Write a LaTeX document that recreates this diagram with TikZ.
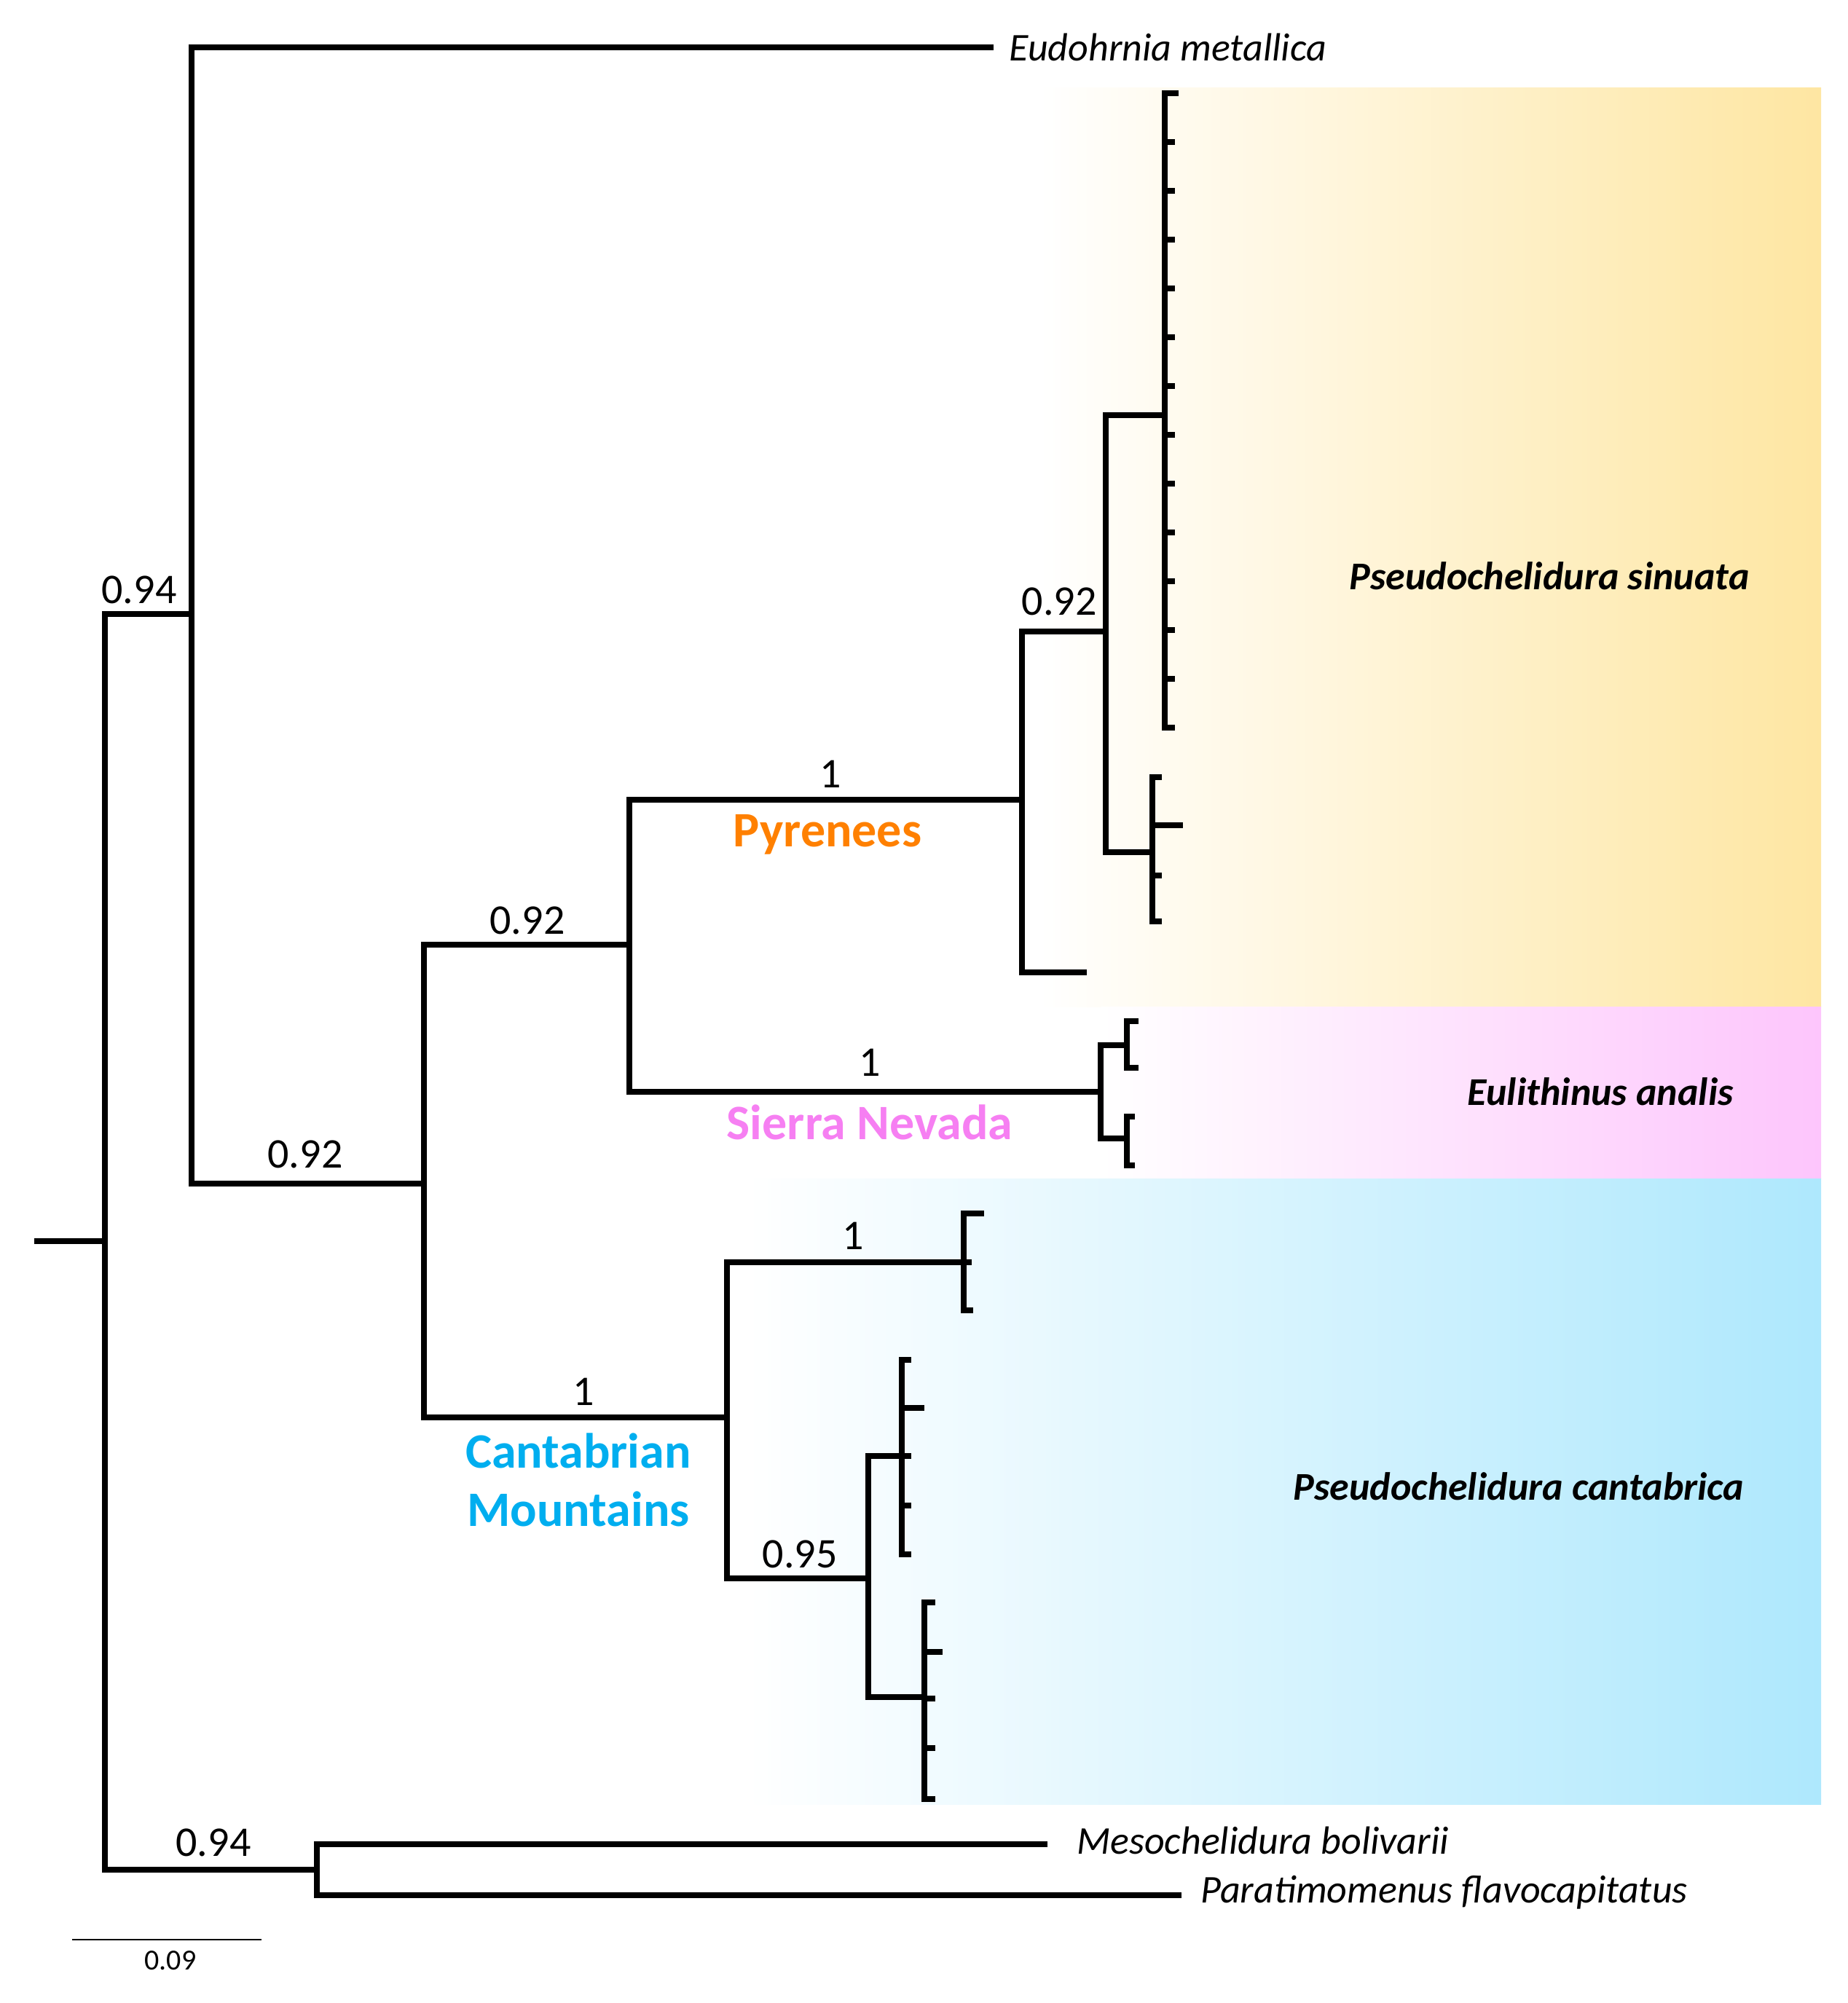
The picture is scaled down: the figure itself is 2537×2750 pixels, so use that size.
\documentclass[tikz,border=0pt]{standalone}
\usepackage{fontspec}
\setmainfont{Carlito}
\definecolor{ylw}{HTML}{FEE6A2}
\definecolor{pnk}{HTML}{FDC5FC}
\definecolor{blu}{HTML}{AEE8FD}
\definecolor{orng}{HTML}{FF8000}
\definecolor{pnktxt}{HTML}{F67FF2}
\definecolor{blutxt}{HTML}{00AEEF}
\tikzset{
  br/.style={line width=8.5pt, line join=miter, line cap=butt},
  tk/.style={line width=7.5pt, line cap=butt},
  supp/.style={inner sep=0pt, font=\fontsize{58}{66}\selectfont},
  taxon/.style={inner sep=0pt, anchor=west, font=\fontsize{54}{62}\selectfont\itshape},
  clade/.style={inner sep=0pt, font=\fontsize{54}{62}\selectfont\bfseries\itshape},
  region/.style={inner sep=0pt, font=\fontsize{68}{80}\selectfont\bfseries, align=center}
}
\begin{document}
\begin{tikzpicture}[x=1pt,y=-1pt]
\useasboundingbox (0,0) rectangle (2537,2750);
% background gradients
\shade[left color=white, right color=ylw] (1427,120) rectangle (2500,1382);
\shade[left color=white, right color=pnk] (1512,1382) rectangle (2500,1618);
\shade[left color=white, right color=blu] (1026,1618) rectangle (2500,2477);

% node coordinates
\coordinate (r0) at (47,1704);
\coordinate (R) at (144,1704);
\coordinate (A) at (263,843);
\coordinate (B) at (435,2567);
\coordinate (C) at (582,1625);
\coordinate (D) at (864,1297);
\coordinate (E) at (998,1946);
\coordinate (F) at (1403,1098);
\coordinate (SN) at (1511,1499);
\coordinate (G) at (1518,867);
\coordinate (H) at (1599,570);
\coordinate (I) at (1582,1170);
\coordinate (J) at (1547,1435);
\coordinate (K) at (1547,1563);
\coordinate (L) at (1323,1733);
\coordinate (M) at (1192,2167);
\coordinate (N) at (1238,1999);
\coordinate (O) at (1269,2330);
\coordinate (eud) at (1364,65);
\coordinate (pyl) at (1492,1335);
\coordinate (mes) at (1438,2532);
\coordinate (par) at (1622,2602);

% tree
\draw[br] (r0) -- (R);
\draw[br] (A) -| (R |- B) -- (B);
\draw[br] (eud) -| (A |- C) -- (C);
\draw[br] (D) -| (C |- E) -- (E);
\draw[br] (F) -| (D |- SN) -- (SN);
\draw[br] (G) -| (F |- pyl) -- (pyl);
\draw[br] (H) -| (G |- I) -- (I);
\draw[br] (J) -| (SN |- K) -- (K);
\draw[br] (L) -| (E |- M) -- (M);
\draw[br] (N) -| (M |- O) -- (O);
\draw[br] (mes) -| (B |- par) -- (par);

% comb H (Pseudochelidura sinuata)
\draw[br] (1599,124) -- (1599,1003);
\draw[tk] (1599,128) -- (1618,128);
\foreach \k in {1,...,12} {\draw[tk] (1599,128+67*\k) -- (1613,128+67*\k);}
\draw[tk] (1599,999) -- (1613,999);
% comb I
\draw[br] (1582,1063) -- (1582,1269);
\draw[tk] (1582,1067) -- (1595,1067);
\draw[tk] (1582,1133) -- (1624,1133);
\draw[tk] (1582,1202) -- (1595,1202);
\draw[tk] (1582,1265) -- (1595,1265);
% combs J, K
\draw[br] (1547,1398) -- (1547,1470);
\draw[tk] (1547,1402) -- (1563,1402);
\draw[tk] (1547,1466) -- (1563,1466);
\draw[br] (1547,1529) -- (1547,1604);
\draw[tk] (1547,1533) -- (1558,1533);
\draw[tk] (1547,1600) -- (1558,1600);
% comb L
\draw[br] (1323,1662) -- (1323,1803);
\draw[tk] (1323,1666) -- (1351,1666);
\draw[tk] (1323,1733) -- (1334,1733);
\draw[tk] (1323,1799) -- (1336,1799);
% comb N
\draw[br] (1238,1863) -- (1238,2138);
\draw[tk] (1238,1867) -- (1251,1867);
\draw[tk] (1238,1933) -- (1269,1933);
\draw[tk] (1238,1999) -- (1251,1999);
\draw[tk] (1238,2067) -- (1251,2067);
\draw[tk] (1238,2134) -- (1251,2134);
% comb O
\draw[br] (1269,2196) -- (1269,2474);
\draw[tk] (1269,2200) -- (1284,2200);
\draw[tk] (1269,2268) -- (1294,2268);
\draw[tk] (1269,2332) -- (1284,2332);
\draw[tk] (1269,2400) -- (1284,2400);
\draw[tk] (1269,2470) -- (1284,2470);

% support values
\node[supp] (s1) at (191,810) {0.94};
\node[supp] (s2) at (419,1585) {0.92};
\node[supp] (s3) at (724,1264) {0.92};
\node[supp] (s4) at (1140,1063) {1};
\node[supp] (s5) at (1454,826) {0.92};
\node[supp] (s6) at (1194,1459) {1};
\node[supp] (s7) at (1171,1697) {1};
\node[supp] (s8) at (801,1911) {1};
\node[supp] (s9) at (1098,2134) {0.95};
\node[supp] (s10) at (293,2530) {0.94};

% regions
\node[region, text=orng] (pyr) at (1136,1146) {Pyrenees};
\node[region, text=pnktxt] (sier) at (1194,1541) {Sierra Nevada};
\node[region, text=blutxt] (cant) at (794,2032) {Cantabrian\\Mountains};

% taxa
\node[taxon] (teud) at (1385,65) {Eudohrnia metallica};
\node[taxon] (tmes) at (1478,2527) {Mesochelidura bolivarii};
\node[taxon] (tpar) at (1648,2598) {Paratimomenus flavocapitatus};
\node[clade] (csin) at (2127,791) {Pseudochelidura sinuata};
\node[clade] (cana) at (2197,1499) {Eulithinus analis};
\node[clade] (ccan) at (2085,2041) {Pseudochelidura cantabrica};

% scale bar
\coordinate (sb1) at (99,2663);
\coordinate (sb2) at (359,2663);
\draw[line width=2pt] (sb1) -- (sb2);
\node[inner sep=0pt, font=\fontsize{40}{48}\selectfont] (sbl) at (234,2692) {0.09};
\end{tikzpicture}
\end{document}
